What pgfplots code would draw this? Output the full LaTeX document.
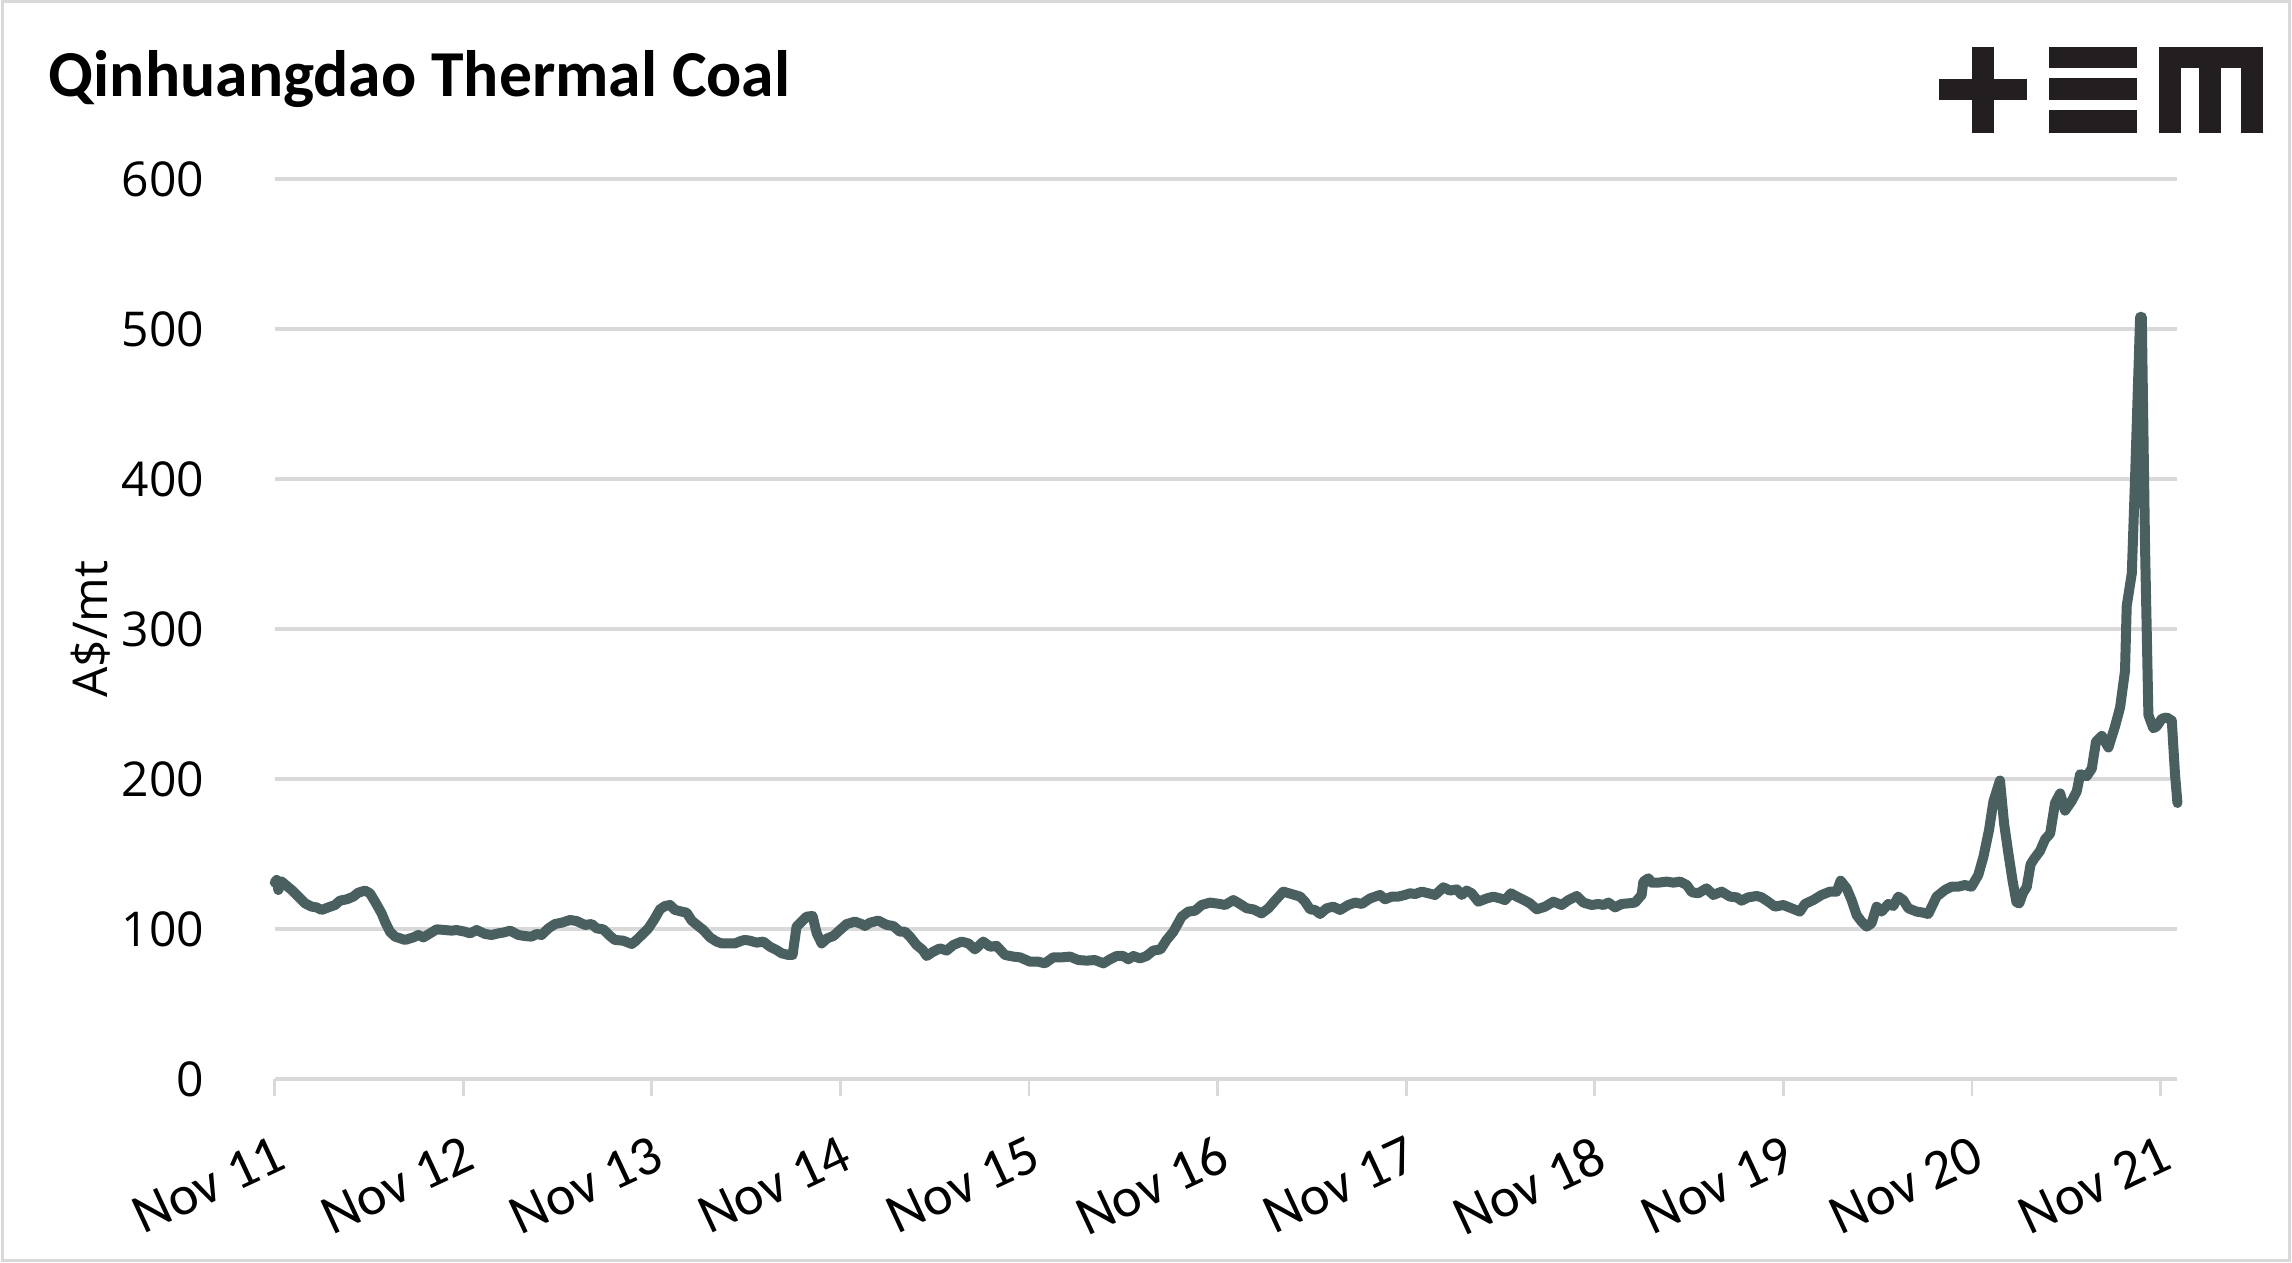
\documentclass[border=0pt]{standalone}
\usepackage{pgfplots}
\pgfplotsset{compat=1.18}
\usepackage{fontspec}
\setmainfont{Carlito}
\newfontfamily\opensans{Open Sans}
\definecolor{linec}{RGB}{74,96,96}
\definecolor{gridc}{RGB}{217,217,217}
\definecolor{logoc}{RGB}{35,31,32}
\begin{document}
\begin{tikzpicture}
\useasboundingbox (0,0) rectangle (573pt,315.75pt);
\draw[gridc, line width=0.75pt] (0.5pt,0.5pt) rectangle (572.4pt,315.3pt);
\node[anchor=base west, inner sep=0pt, font=\bfseries\fontsize{16.4}{20}\selectfont] at (12pt,291.6pt) {Qinhuangdao Thermal Coal};
% logo
\fill[logoc] (484.7pt,290.75pt) rectangle (506.7pt,295.9pt);
\fill[logoc] (493pt,282.6pt) rectangle (498.5pt,304.1pt);
\fill[logoc] (512.2pt,298.7pt) rectangle (534.2pt,304.1pt);
\fill[logoc] (512.2pt,290.75pt) rectangle (534.2pt,296.2pt);
\fill[logoc] (512.2pt,282.6pt) rectangle (534.2pt,288.25pt);
\fill[logoc] (539.7pt,298.7pt) rectangle (565.7pt,304.1pt);
\fill[logoc] (539.7pt,282.6pt) rectangle (545.2pt,304.1pt);
\fill[logoc] (549.8pt,282.6pt) rectangle (555.3pt,304.1pt);
\fill[logoc] (560.2pt,282.6pt) rectangle (565.7pt,304.1pt);
\begin{axis}[
  at={(68.675pt,46pt)}, anchor=south west,
  scale only axis, width=475.45pt, height=225pt,
  xmin=0, xmax=10.084, ymin=0, ymax=600,
  axis x line*=bottom, axis y line*=left,
  x axis line style={gridc, line width=0.9pt},
  y axis line style={draw=none},
  ytick={0,100,...,600},
  xtick={0,...,10},
  xticklabels={Nov 11,Nov 12,Nov 13,Nov 14,Nov 15,Nov 16,Nov 17,Nov 18,Nov 19,Nov 20,Nov 21},
  tick align=outside,
  x tick style={gridc, line width=0.7pt},
  major tick length=4.25pt,
  y tick style={draw=none},
  ymajorgrids, grid style={gridc, line width=0.8pt},
  /pgf/number format/assume math mode=true,
  yticklabel style={font=\opensans\fontsize{12}{14}\selectfont, anchor=east, inner sep=0pt, xshift=-13.25pt},
  xticklabel style={font=\fontsize{14}{16}\selectfont, rotate=25, anchor=north east, inner sep=0pt, yshift=-8.4pt, xshift=-4.2pt},
  ylabel={A\$/mt},
  ylabel style={font=\opensans\fontsize{12}{14}\selectfont, at={(axis description cs:-0.0966,0.5)}, anchor=center},
  clip=false,
]
\addplot[linec, line width=2.5pt, line join=round, line cap=round] coordinates {
(0.000,131) (0.0105,132.7) (0.0193,126.0) (0.037,131.6) (0.090,126.0) (0.125,121.6) (0.161,117.1) (0.196,114.9) (0.222,114.4) (0.249,112.7) (0.284,114.4) (0.320,116.0) (0.346,118.9) (0.382,119.8) (0.417,121.6) (0.443,124.2) (0.479,125.6) (0.505,123.8) (0.532,118.2) (0.567,110.4) (0.585,104.9) (0.611,98.2) (0.638,94.9) (0.691,92.7) (0.735,94.4) (0.762,96.0) (0.788,94.4) (0.824,97.1) (0.859,99.8) (0.903,99.3) (0.938,98.9) (0.965,99.3) (1.009,98.2) (1.035,97.1) (1.071,99.3) (1.115,96.7) (1.150,96.0) (1.186,97.1) (1.212,97.6) (1.248,98.9) (1.292,96.0) (1.327,95.3) (1.362,94.9) (1.389,96.7) (1.415,96.0) (1.451,100.4) (1.486,103.3) (1.522,104.2) (1.566,106.0) (1.601,105.3) (1.645,102.7) (1.681,103.3) (1.707,100.4) (1.742,99.8) (1.778,95.3) (1.804,92.7) (1.848,92.2) (1.893,90.0) (1.910,91.6) (1.946,96.0) (1.981,100.4) (2.016,107.1) (2.043,113.1) (2.069,115.3) (2.096,116.0) (2.122,112.7) (2.158,111.6) (2.184,110.9) (2.211,105.6) (2.246,102.0) (2.273,99.3) (2.308,94.4) (2.343,91.6) (2.370,90.4) (2.405,90.4) (2.441,90.4) (2.476,92.2) (2.494,92.7)
(2.520,92.2) (2.555,90.9) (2.591,91.6) (2.626,88.2) (2.661,86.0) (2.688,83.8) (2.723,82.7) (2.746,82.7) (2.767,101.6) (2.794,104.9) (2.820,108.2) (2.852,108.7) (2.874,97.1) (2.900,90.4) (2.930,93.8) (2.962,95.3) (2.997,99.3) (3.033,103.3) (3.077,104.9) (3.112,103.3) (3.130,102.0) (3.156,104.2) (3.200,105.6) (3.245,102.7) (3.280,102.0) (3.315,98.2) (3.342,98.2) (3.368,94.9) (3.404,89.3) (3.436,86.0) (3.457,82.0) (3.492,84.9) (3.527,87.1) (3.563,85.6) (3.598,89.3) (3.642,91.6) (3.678,90.4) (3.713,86.4) (3.757,91.6) (3.793,88.2) (3.828,88.7) (3.872,82.7) (3.916,81.6) (3.952,81.1) (4.005,78.2) (4.049,78.2) (4.084,77.1) (4.128,81.1) (4.173,81.1) (4.217,81.6) (4.261,79.3) (4.305,78.9) (4.349,79.3) (4.394,77.1) (4.429,79.8) (4.464,82.0) (4.499,82.0) (4.526,79.8) (4.553,82.0) (4.588,80.4) (4.623,82.0) (4.658,85.6) (4.697,86.4) (4.729,92.7) (4.765,98.2) (4.809,108.2) (4.844,111.6) (4.880,112.2) (4.915,116.0) (4.959,117.6) (5.012,116.7)
(5.039,116.0) (5.083,119.3) (5.118,116.7) (5.154,113.8) (5.189,113.1) (5.233,110.4) (5.269,113.8) (5.304,118.9) (5.348,124.9) (5.392,123.3) (5.437,121.6) (5.463,118.2) (5.490,113.1) (5.516,112.7) (5.543,110.0) (5.578,113.8) (5.613,114.9) (5.649,112.7) (5.693,116.0) (5.728,117.6) (5.764,116.7) (5.808,120.4) (5.861,122.7) (5.887,119.8) (5.923,121.6) (5.958,121.6) (5.993,122.7) (6.020,123.8) (6.047,123.3) (6.082,124.9) (6.117,123.8) (6.153,122.7) (6.197,127.8) (6.232,125.6) (6.268,126.4) (6.294,122.7) (6.320,125.6) (6.347,123.8) (6.382,118.2) (6.427,120.4) (6.462,121.6) (6.497,120.4) (6.524,119.3) (6.555,123.8) (6.586,121.6) (6.630,118.9) (6.656,117.1) (6.692,113.1) (6.736,114.9) (6.780,118.2) (6.824,116.0) (6.860,119.3) (6.904,122.0) (6.939,117.6) (6.983,116.0) (7.019,116.7) (7.045,116.0) (7.072,117.6) (7.107,114.4) (7.142,116.7) (7.178,117.1) (7.213,117.6) (7.248,122.7) (7.257,131.6) (7.284,133.8) (7.301,130.9) (7.337,130.9) (7.381,131.6) (7.416,130.9) (7.452,131.6) (7.487,129.3) (7.514,124.5) (7.548,123.8)
(7.592,127.1) (7.628,122.7) (7.672,124.9) (7.716,121.6) (7.752,121.1) (7.778,118.9) (7.813,121.1) (7.858,122.0) (7.884,121.1) (7.919,118.2) (7.955,114.9) (7.999,116.0) (8.043,113.8) (8.087,111.6) (8.114,116.7) (8.158,119.3) (8.202,122.7) (8.246,124.9) (8.282,124.9) (8.303,132.2) (8.335,127.1) (8.361,119.3) (8.388,109.3) (8.414,104.9) (8.441,101.6) (8.467,103.8) (8.494,114.9) (8.520,111.6) (8.556,116.7) (8.582,115.3) (8.609,121.6) (8.635,119.3) (8.662,113.8) (8.706,111.6) (8.741,110.9) (8.768,110.0) (8.812,121.6) (8.856,126.0) (8.891,128.2) (8.927,128.2) (8.962,129.3) (8.997,128.2) (9.033,136.0)
(9.060,148) (9.090,166) (9.113,185) (9.148,199) (9.170,170) (9.193,150) (9.215,132) (9.235,118) (9.250,117) (9.270,124) (9.290,128) (9.310,143) (9.330,147) (9.360,152) (9.387,159.8) (9.414,163.6) (9.440,184) (9.467,190.4) (9.493,178.9) (9.528,185.3) (9.555,191.7) (9.573,203.2) (9.608,201.9) (9.635,207) (9.657,224.9) (9.688,228.7) (9.723,221) (9.758,235.1) (9.785,247.8) (9.811,272.1) (9.820,315.4) (9.847,337.1) (9.864,399.6) (9.891,508) (9.900,508) (9.917,356.2) (9.935,242.7) (9.961,233.8) (9.979,235.1) (10.006,240.2) (10.032,241) (10.059,238.9) (10.076,203.2) (10.089,184)
};
\end{axis}
\end{tikzpicture}
\end{document}
